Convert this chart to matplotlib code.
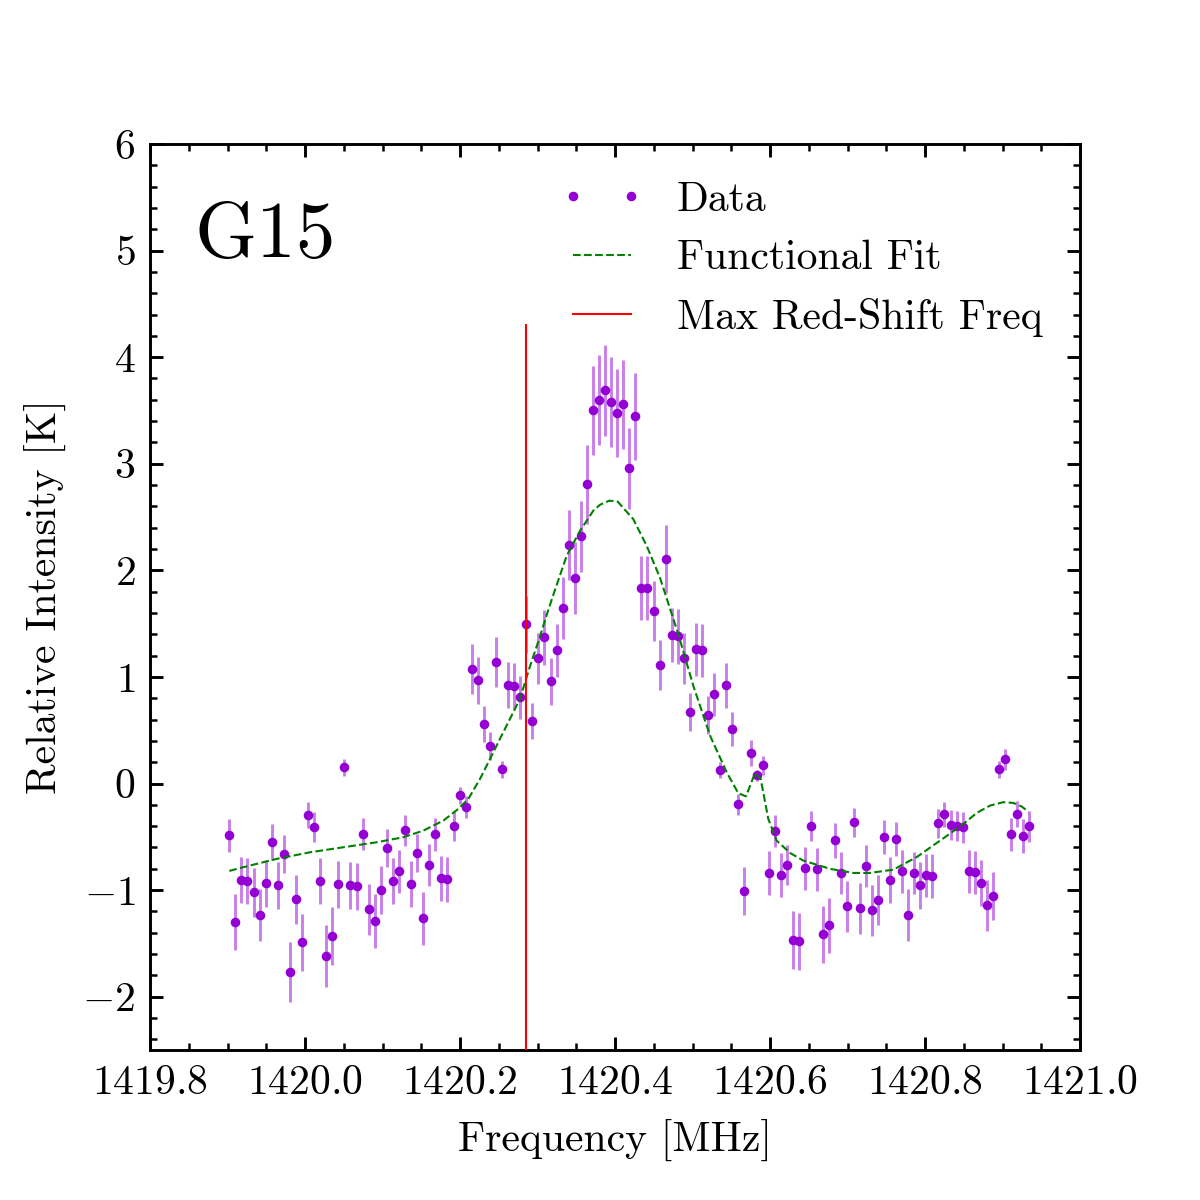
import numpy as np
import matplotlib
matplotlib.use("Agg")
import matplotlib.pyplot as plt
from matplotlib.ticker import MultipleLocator

plt.rcParams["font.family"] = "serif"
plt.rcParams["font.serif"] = ["cmr10", "DejaVu Serif"]
plt.rcParams["mathtext.fontset"] = "cm"
plt.rcParams["axes.formatter.use_mathtext"] = True
plt.rcParams["axes.unicode_minus"] = True

# channel grid of the spectrum (MHz), 133 channels
freq = np.linspace(1419.9023, 1420.9346, 133)

# measured relative intensity [K]
intensity = [
    -0.485, -1.30, -0.907, -0.917, -1.02, -1.235, -0.935, -0.55, -0.954, -0.663,
    -1.77, -1.085, -1.49, -0.297, -0.41, -0.917, -1.62, -1.43, -0.945, 0.153,
    -0.954, -0.963, -0.476, -1.18, -1.29, -1.00, -0.607, -0.917, -0.823, -0.438,
    -0.945, -0.654, -1.264, -0.766, -0.476, -0.888, -0.897, -0.40, -0.11, -0.22,
    1.072, 0.969, 0.556, 0.35, 1.138, 0.134, 0.922, 0.913, 0.81, 1.494,
    0.584, 1.175, 1.372, 0.96, 1.25, 1.644, 2.235, 1.926, 2.32, 2.808,
    3.50, 3.596, 3.69, 3.577, 3.474, 3.558, 2.958, 3.446, 1.832, 1.832,
    1.616, 1.11, 2.104, 1.391, 1.382, 1.175, 0.669, 1.26, 1.25, 0.64,
    0.838, 0.125, 0.922, 0.509, -0.194, -1.01, 0.284, 0.078, 0.172, -0.841,
    -0.447, -0.86, -0.766, -1.47, -1.48, -0.795, -0.40, -0.804, -1.414, -1.33,
    -0.532, -0.841, -1.151, -0.363, -1.17, -0.776, -1.189, -1.095, -0.504, -0.907,
    -0.523, -0.823, -1.236, -0.841, -0.954, -0.86, -0.87, -0.373, -0.29, -0.39,
    -0.40, -0.41, -0.823, -0.832, -0.935, -1.142, -1.057, 0.134, 0.228, -0.476,
    -0.288, -0.494, -0.40,
]

# 1-sigma uncertainties [K]
errors = [
    0.153, 0.26, 0.216, 0.216, 0.23, 0.245, 0.22, 0.17, 0.22, 0.18,
    0.28, 0.23, 0.27, 0.12, 0.14, 0.216, 0.29, 0.27, 0.22, 0.08,
    0.22, 0.22, 0.15, 0.24, 0.25, 0.225, 0.18, 0.216, 0.20, 0.145,
    0.215, 0.18, 0.25, 0.20, 0.155, 0.21, 0.21, 0.14, 0.08, 0.10,
    0.235, 0.22, 0.167, 0.13, 0.233, 0.078, 0.216, 0.216, 0.20, 0.27,
    0.17, 0.24, 0.26, 0.22, 0.25, 0.29, 0.33, 0.34, 0.335, 0.37,
    0.42, 0.42, 0.425, 0.42, 0.415, 0.42, 0.38, 0.41, 0.30, 0.30,
    0.28, 0.233, 0.32, 0.255, 0.26, 0.24, 0.177, 0.25, 0.25, 0.178,
    0.20, 0.075, 0.21, 0.158, 0.097, 0.224, 0.12, 0.053, 0.088, 0.205,
    0.149, 0.205, 0.19, 0.27, 0.27, 0.20, 0.138, 0.20, 0.266, 0.256,
    0.163, 0.20, 0.24, 0.134, 0.24, 0.195, 0.24, 0.233, 0.158, 0.214,
    0.16, 0.20, 0.245, 0.20, 0.22, 0.20, 0.205, 0.134, 0.12, 0.14,
    0.14, 0.144, 0.20, 0.20, 0.214, 0.237, 0.228, 0.078, 0.10, 0.153,
    0.12, 0.158, 0.144,
]

# functional fit, sampled off the curve
fit_freq = [
    1419.9023, 1419.9204, 1419.9635, 1420.0065, 1420.0494, 1420.0925, 1420.1268,
    1420.1526, 1420.1785, 1420.1978, 1420.2107, 1420.2258, 1420.2387, 1420.2516,
    1420.2645, 1420.2774, 1420.2852, 1420.2903, 1420.3032, 1420.3118, 1420.3204,
    1420.3377, 1420.3548, 1420.3720, 1420.3806, 1420.3926, 1420.4035, 1420.4065,
    1420.4236, 1420.4409, 1420.4581, 1420.4817, 1420.5010, 1420.5226, 1420.5441,
    1420.5591, 1420.5690, 1420.5806, 1420.5880, 1420.5978, 1420.6086, 1420.6258,
    1420.6430, 1420.6774, 1420.7075, 1420.7290, 1420.7591, 1420.7893, 1420.8107,
    1420.8323, 1420.8494, 1420.8667, 1420.8839, 1420.9010, 1420.9140, 1420.9248,
    1420.9334,
]
fit_vals = [
    -0.82, -0.785, -0.707, -0.645, -0.598, -0.551, -0.504,
    -0.442, -0.348, -0.238, -0.145, 0.043, 0.23, 0.42,
    0.607, 0.794, 0.98, 1.10, 1.38, 1.58, 1.77,
    2.138, 2.37, 2.56, 2.615, 2.654, 2.645, 2.62,
    2.48, 2.23, 1.93, 1.40, 0.918, 0.45, 0.106,
    -0.091, -0.12, 0.097, 0.043, -0.332, -0.536, -0.651,
    -0.723, -0.80, -0.839, -0.839, -0.808, -0.69, -0.58,
    -0.47, -0.38, -0.276, -0.207, -0.175, -0.182, -0.216,
    -0.264,
]

red_shift_freq = 1420.2852

fig = plt.figure(figsize=(4, 4), dpi=300)
ax = fig.add_axes([0.125, 0.125, 0.775, 0.755])

ax.errorbar(freq, intensity, yerr=errors, fmt="none", ecolor="darkviolet",
            alpha=0.5, elinewidth=0.7, capsize=0, zorder=1)
ax.plot(freq, intensity, ".", color="darkviolet", ms=2.6, zorder=2, label="Data")
ax.plot(fit_freq, fit_vals, "--", color="green", lw=0.5, zorder=3, label="Functional Fit")
ax.axvline(red_shift_freq, ymax=0.8, color="red", lw=0.5, zorder=4, label="Max Red-Shift Freq")

ax.set_xlim(1419.8, 1421.0)
ax.set_ylim(-2.5, 6)
ax.ticklabel_format(axis="x", useOffset=False)
ax.xaxis.set_major_locator(MultipleLocator(0.2))
ax.xaxis.set_minor_locator(MultipleLocator(0.05))
ax.yaxis.set_major_locator(MultipleLocator(1))
ax.yaxis.set_minor_locator(MultipleLocator(0.2))
ax.tick_params(which="both", direction="in", top=True, right=True, labelsize=10, width=0.7)
ax.tick_params(which="major", length=3.2)
ax.tick_params(which="minor", length=1.6, width=0.6)
for sp in ax.spines.values():
    sp.set_linewidth(0.7)

ax.set_xlabel("Frequency [MHz]", fontsize=10)
ax.set_ylabel("Relative Intensity [K]", fontsize=10)
ax.text(0.048, 0.875, "G15", transform=ax.transAxes, fontsize=19,
        ha="left", va="baseline")

ax.legend(loc="upper right", frameon=False, fontsize=10, numpoints=2)

fig.savefig("out.png", dpi=300)
